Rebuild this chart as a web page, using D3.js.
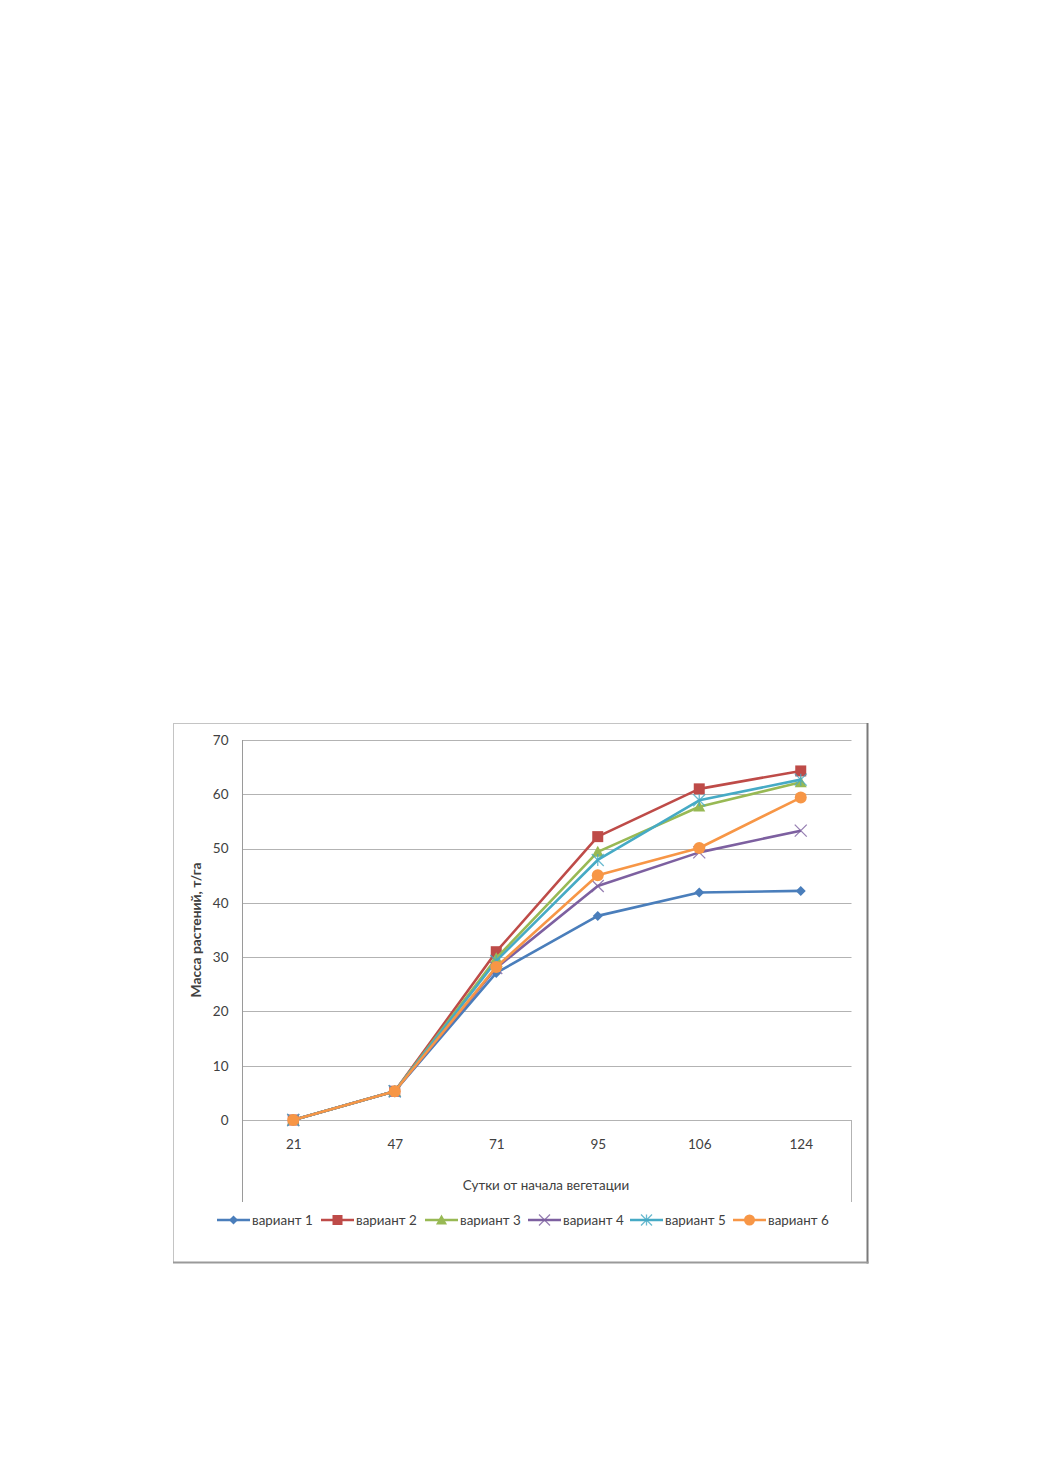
<!DOCTYPE html>
<html>
<head>
<meta charset="utf-8">
<script src="https://cdn.jsdelivr.net/npm/d3@7"></script>
<style>
  html, body { margin: 0; padding: 0; background: #fff; }
  svg { display: block; }
  text { font-family: Lato, "Open Sans", "Liberation Sans", sans-serif; }
</style>
</head>
<body>
<svg id="chart" width="1040" height="1473"></svg>
<script>
const categories = ["21", "47", "71", "95", "106", "124"];
const yTicks = [0, 10, 20, 30, 40, 50, 60, 70];
const seriesNames = ["вариант 1", "вариант 2", "вариант 3", "вариант 4", "вариант 5", "вариант 6"];
const v1 = [0, 5.3, 27.1, 37.6, 41.9, 42.2];
const v2 = [0, 5.3, 31.0, 52.2, 61.0, 64.3];
const v3 = [0, 5.3, 29.8, 49.4, 57.7, 62.2];
const v4 = [0, 5.3, 28.0, 43.1, 49.3, 53.3];
const v5 = [0, 5.3, 29.3, 47.9, 58.9, 62.7];
const v6 = [0, 5.3, 28.2, 45.1, 50.1, 59.4];
const seriesValues = [v1, v2, v3, v4, v5, v6];
const colors = ["#4A7EBB", "#BE4B48", "#98B954", "#7D60A0", "#46AAC5", "#F79646"];
const markers = ["diamond", "square", "triangle", "x", "star", "circle"];
const yTitle = "Масса растений, т/га";
const xTitle = "Сутки от начала вегетации";

const svg = d3.select("#chart");

// chart frame
const frame = {x0: 173, y0: 723, x1: 867, y1: 1262};
svg.append("rect").attr("x", frame.x0 + 0.5).attr("y", frame.y0 + 0.5)
  .attr("width", frame.x1 - frame.x0).attr("height", frame.y1 - frame.y0)
  .attr("fill", "#fff").attr("stroke", "#c4c4c4").attr("stroke-width", 1);
svg.append("line").attr("x1", frame.x1 + 0.5).attr("x2", frame.x1 + 0.5)
  .attr("y1", frame.y0).attr("y2", frame.y1 + 1.5).attr("stroke", "#7a7a7a").attr("stroke-width", 2);
svg.append("line").attr("x1", frame.x0).attr("x2", frame.x1 + 1.5)
  .attr("y1", frame.y1 + 0.5).attr("y2", frame.y1 + 0.5).attr("stroke", "#9a9a9a").attr("stroke-width", 2);

const plot = {left: 242.5, right: 851.5, top: 740, bottom: 1120};
const x = d3.scalePoint().domain(categories).range([plot.left, plot.right]).padding(0.5);
const y = d3.scaleLinear().domain([0, 70]).range([plot.bottom, plot.top]);

// gridlines
svg.append("g").selectAll("line").data(yTicks).join("line")
  .attr("x1", plot.left).attr("x2", plot.right)
  .attr("y1", d => Math.round(y(d)) + 0.5).attr("y2", d => Math.round(y(d)) + 0.5)
  .attr("stroke", "#b3b3b3").attr("stroke-width", 1);

// axis box lines
svg.append("line").attr("x1", plot.left).attr("x2", plot.left)
  .attr("y1", plot.top).attr("y2", 1202).attr("stroke", "#9a9a9a").attr("stroke-width", 1);
svg.append("line").attr("x1", plot.right).attr("x2", plot.right)
  .attr("y1", plot.bottom).attr("y2", 1202).attr("stroke", "#b3b3b3").attr("stroke-width", 1);

// y axis labels via d3 axis
const yAxis = d3.axisLeft(y).tickValues(yTicks).tickSize(0).tickPadding(14);
const gy = svg.append("g").attr("transform", `translate(${plot.left},0)`).call(yAxis);
gy.select(".domain").remove();
gy.selectAll("text").attr("font-size", 13.5).attr("fill", "#404040")
  .style("font-family", "Lato, 'Open Sans', sans-serif");

// x axis labels
const xAxis = d3.axisBottom(x).tickSize(0).tickPadding(19);
const gx = svg.append("g").attr("transform", `translate(0,${plot.bottom})`).call(xAxis);
gx.select(".domain").remove();
gx.selectAll("text").attr("font-size", 13.5).attr("fill", "#404040")
  .style("font-family", "Lato, 'Open Sans', sans-serif");

// axis titles
svg.append("text").attr("x", 546).attr("y", 1190).attr("text-anchor", "middle")
  .attr("font-size", 13.4).attr("fill", "#404040").text(xTitle);
svg.append("text").attr("transform", `translate(201,${(plot.top + plot.bottom) / 2}) rotate(-90)`)
  .attr("text-anchor", "middle").attr("font-size", 13.8).attr("font-weight", "bold")
  .attr("fill", "#404040").text(yTitle);

function drawMarker(g, type, color, cx, cy, s) {
  if (type === "diamond") {
    g.append("path").attr("d", `M${cx},${cy - s}L${cx + s},${cy}L${cx},${cy + s}L${cx - s},${cy}Z`)
      .attr("fill", color);
  } else if (type === "square") {
    g.append("rect").attr("x", cx - s).attr("y", cy - s).attr("width", 2 * s).attr("height", 2 * s)
      .attr("fill", color);
  } else if (type === "triangle") {
    g.append("path").attr("d", `M${cx},${cy - s}L${cx + s},${cy + s * 0.8}L${cx - s},${cy + s * 0.8}Z`)
      .attr("fill", color);
  } else if (type === "x") {
    g.append("path").attr("d", `M${cx - s},${cy - s}L${cx + s},${cy + s}M${cx - s},${cy + s}L${cx + s},${cy - s}`)
      .attr("stroke", color).attr("stroke-width", 1.3).attr("opacity", 0.8);
  } else if (type === "star") {
    g.append("path").attr("d", `M${cx - s},${cy - s}L${cx + s},${cy + s}M${cx - s},${cy + s}L${cx + s},${cy - s}M${cx},${cy - s}L${cx},${cy + s}`)
      .attr("stroke", color).attr("stroke-width", 1.3).attr("opacity", 0.8);
  } else if (type === "circle") {
    g.append("circle").attr("cx", cx).attr("cy", cy).attr("r", s).attr("fill", color);
  }
}

const markerSize = [5, 5.5, 6, 6, 6, 6];
const line = d3.line().x((d, i) => x(categories[i])).y(d => y(d));

seriesValues.forEach((vals, si) => {
  const g = svg.append("g");
  g.append("path").datum(vals).attr("d", line).attr("fill", "none")
    .attr("stroke", colors[si]).attr("stroke-width", 2.6).attr("stroke-linejoin", "round");
  vals.forEach((v, i) => drawMarker(g, markers[si], colors[si], x(categories[i]), y(v), markerSize[si]));
});

// legend
const legendX = [217, 321, 425, 528, 630, 733];
const legendY = 1220;
seriesNames.forEach((name, si) => {
  const g = svg.append("g");
  const lx = legendX[si];
  g.append("line").attr("x1", lx).attr("x2", lx + 33).attr("y1", legendY).attr("y2", legendY)
    .attr("stroke", colors[si]).attr("stroke-width", 2.6);
  drawMarker(g, markers[si], colors[si], lx + 16.5, legendY, markerSize[si] - 0.5);
  g.append("text").attr("x", lx + 35).attr("y", legendY + 4.5).attr("font-size", 13.4)
    .attr("fill", "#404040").text(name);
});
</script>
</body>
</html>
